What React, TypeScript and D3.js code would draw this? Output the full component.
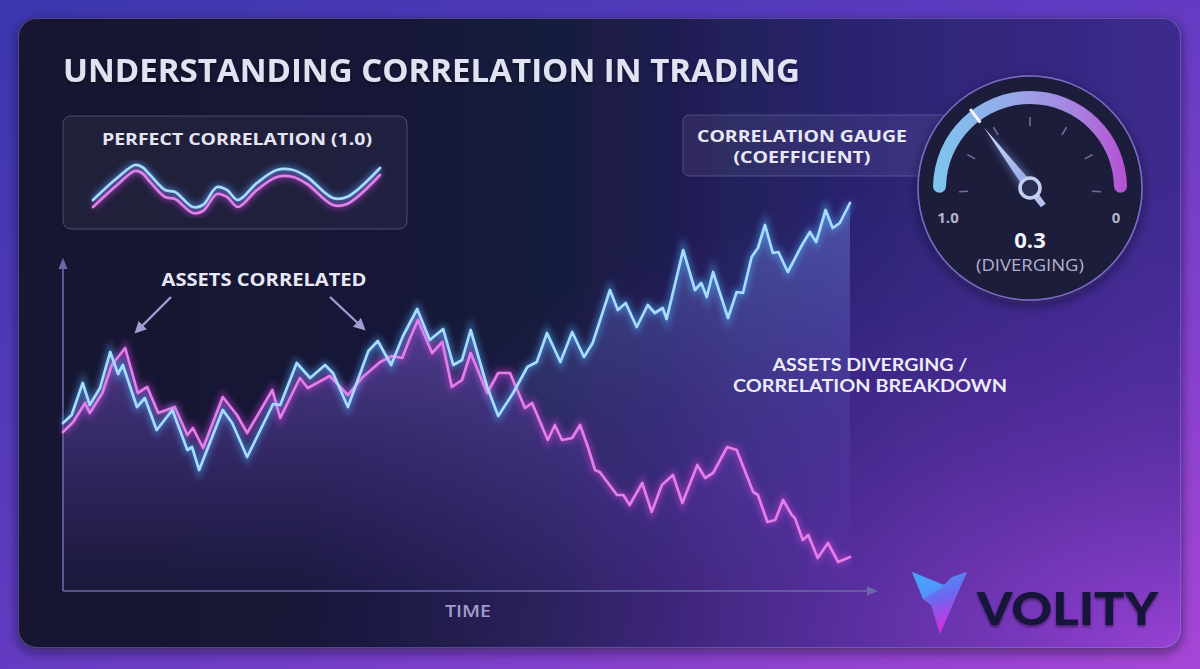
import React from "react";
import * as d3 from "d3";

const W = 1200;
const H = 669;

// ---------- text ----------
const TITLE = "UNDERSTANDING CORRELATION IN TRADING";
const PERFECT_LABEL = "PERFECT CORRELATION (1.0)";
const GAUGE_LABEL = ["CORRELATION GAUGE", "(COEFFICIENT)"];
const CORRELATED_LABEL = "ASSETS CORRELATED";
const DIVERGING_LABEL = ["ASSETS DIVERGING /", "CORRELATION BREAKDOWN"];
const X_AXIS_LABEL = "TIME";
const GAUGE_END_LABELS = ["1.0", "0"];
const GAUGE_VALUE_LABEL = "0.3";
const GAUGE_STATE_LABEL = "(DIVERGING)";
const BRAND = "VOLITY";

// ---------- main chart data: [time (0-100), price index (0-100)] ----------
const assetA: [number, number][] = [
  [0, 42], [1.1, 44], [2.5, 52], [3.4, 46.5], [4.7, 50.75], [6, 59.75], [7, 54.25], [7.6, 56.5],
  [9.4, 46], [10.4, 48.25], [11.9, 40.25], [13.9, 45.25], [15.8, 35.25], [16.4, 36], [17.3, 30.25],
  [20.3, 45.25], [21.5, 42], [23.4, 33.5], [26.7, 46.75], [27.6, 46.5], [29.7, 57], [31.4, 53.25],
  [33.3, 56.5], [34.3, 54.5], [36.2, 46], [38.8, 60], [40, 62.5], [41.7, 56.5], [43.2, 63.75],
  [45, 70.5], [46.6, 62.75], [48.3, 65.5], [49.6, 56.5], [50.7, 57.75], [51.8, 65.25], [53.9, 51],
  [55.3, 43.75], [57.2, 49.5], [59, 56], [60.2, 57.25], [61.5, 64.5], [63.2, 57.25], [64.7, 64.75],
  [66.2, 58.5], [67.3, 62], [69.5, 75.25], [70.5, 70.25], [71.5, 72], [72.9, 66], [74.3, 71.5],
  [75.2, 69.5], [76.2, 70.75], [76.7, 68], [78.8, 85.25], [80.3, 75.25], [81.1, 77], [81.8, 73.5],
  [82.6, 79.75], [84.5, 68.25], [85.6, 74.75], [86.4, 74.5], [87.5, 83.5], [88.3, 85.75], [89.2, 91.5],
  [90.2, 84.5], [90.9, 84.75], [92.1, 79.75], [93.9, 86.5], [94.9, 89.75], [95.7, 87.25], [96.9, 95.25],
  [97.8, 90.75], [98.7, 92], [100, 97],
];

const assetB: [number, number][] = [
  [0, 39.75], [1.3, 42.25], [2.8, 47], [3.4, 44.5], [5, 49.5], [6.2, 56.5], [7.9, 60.75], [9.5, 49.5],
  [10.7, 51], [12.1, 44.5], [14.2, 46], [15.8, 39], [16.5, 40.75], [17.8, 35.75], [20.3, 48.5],
  [22.1, 44], [23.4, 39.5], [26.6, 50.25], [27.6, 43.25], [30.1, 53.25], [31.1, 50.75], [33.9, 53.75],
  [36.2, 49], [38.1, 53.5], [40.3, 57.25], [41.8, 58.75], [43.1, 58.25], [44.1, 63.25], [45.1, 67.75],
  [46.9, 59.5], [48.2, 62.25], [49.4, 51], [50.7, 52.75], [51.8, 59.5], [53.9, 49.5], [55.3, 54.5],
  [56.8, 54.5], [58.7, 45.75], [59.6, 47], [61.6, 37.75], [62.5, 41.5], [63.4, 37.75], [64.7, 38.25],
  [65.7, 41.5], [66.7, 36], [67.6, 30.25], [68.2, 29.75], [70.4, 24], [71.2, 24], [72, 21.5],
  [73.6, 27], [74.8, 19.75], [76.1, 26.5], [77.5, 29], [78.7, 22], [80.6, 31.5], [81.6, 28.25],
  [82.6, 29.5], [84.4, 36], [85.6, 35.25], [87.7, 24.75], [88.3, 24], [89.5, 17.25], [90.5, 17.75],
  [91.5, 22.75], [92.6, 19], [93, 18.25], [94, 12.75], [94.7, 14], [95.9, 8.25], [97.2, 12],
  [98.5, 7.25], [100, 8.5],
];

// ---------- inset "perfect correlation" data ----------
const miniTime = [0, 8.4, 14.6, 17.1, 19.9, 25.1, 28.6, 34.8, 38.3, 43.2, 46.7, 50.5, 57.1, 64.1, 69.7, 74.6, 83.6, 88.5, 100];
const miniA = [15, 37, 50, 48, 40, 25, 23, 8, 10, 28, 25, 15, 32, 45, 45, 38, 17, 18, 47];
const miniB = [8, 30, 44, 42, 33, 18, 16, 2, 4, 21, 18, 8, 25, 38, 38, 31, 10, 11, 40];

// ---------- gauge ----------
const gaugeTicks = [0, 1 / 6, 2 / 6, 3 / 6, 4 / 6, 5 / 6, 1];
const gaugeNeedle = 0.3; // position along the dial, measured from the "1.0" end

const BLUE_CORE = "#a6dcff";
const BLUE_GLOW = "#4da6f2";
const PINK_CORE = "#e27fe8";
const PINK_GLOW = "#c23fd2";
const FONT = "'Open Sans', 'Noto Sans', sans-serif";
const FONT_TIGHT = "Lato, 'Open Sans', sans-serif";

export default function App() {
  // main chart scales
  const x = d3.scaleLinear().domain([0, 100]).range([63, 850]);
  const y = d3.scaleLinear().domain([0, 100]).range([591, 191]);
  const line = d3
    .line<[number, number]>()
    .x((d) => x(d[0]))
    .y((d) => y(d[1]))
    .curve(d3.curveLinear);
  const area = d3
    .area<[number, number]>()
    .x((d) => x(d[0]))
    .y0(y(0))
    .y1((d) => y(d[1]))
    .curve(d3.curveLinear);

  // inset scales
  const mx = d3.scaleLinear().domain([0, 100]).range([93, 380]);
  const my = d3.scaleLinear().domain([0, 50]).range([215, 165]);
  const miniLine = d3
    .line<number>()
    .x((_, i) => mx(miniTime[i]))
    .y((d) => my(d))
    .curve(d3.curveCatmullRom.alpha(0.5));

  // gauge
  const gcx = 1030;
  const gcy = 188;
  const toRad = Math.PI / 180;
  const gAngle = d3.scaleLinear().domain([0, 1]).range([-93, 93]); // degrees, clockwise from 12 o'clock
  const bandArc = d3
    .arc()
    .innerRadius(84)
    .outerRadius(97)
    .startAngle(gAngle(0) * toRad)
    .endAngle(gAngle(1) * toRad)
    .cornerRadius(6.5);
  const polar = (deg: number, r: number) => [Math.sin(deg * toRad) * r, -Math.cos(deg * toRad) * r];
  const needleDeg = gAngle(gaugeNeedle);
  const mk1 = polar(needleDeg, 82);
  const mk2 = polar(needleDeg, 99);

  return (
    <svg
      width={W}
      height={H}
      viewBox={`0 0 ${W} ${H}`}
      style={{ position: "absolute", left: 0, top: 0, display: "block" }}
    >
      <defs>
        <linearGradient id="bg" x1="0" y1="0" x2="1" y2="1">
          <stop offset="0" stopColor="#3a36ae" />
          <stop offset="0.5" stopColor="#633bc2" />
          <stop offset="1" stopColor="#a646d6" />
        </linearGradient>
        <linearGradient id="cardBase" x1="0" y1="0" x2="1" y2="0">
          <stop offset="0" stopColor="#131730" />
          <stop offset="0.45" stopColor="#171a3b" />
          <stop offset="0.72" stopColor="#2a2470" />
          <stop offset="1" stopColor="#3e2a8e" />
        </linearGradient>
        <radialGradient id="cardGlow" cx="1" cy="1" r="0.78">
          <stop offset="0" stopColor="#9c42d8" stopOpacity="0.95" />
          <stop offset="0.5" stopColor="#6a32b2" stopOpacity="0.5" />
          <stop offset="1" stopColor="#4a2aa0" stopOpacity="0" />
        </radialGradient>
        <linearGradient id="blueArea" gradientUnits="userSpaceOnUse" x1="0" y1="200" x2="0" y2="591">
          <stop offset="0" stopColor="#7a96f0" stopOpacity="0.42" />
          <stop offset="0.55" stopColor="#6a6ad8" stopOpacity="0.18" />
          <stop offset="1" stopColor="#5a4ac8" stopOpacity="0.02" />
        </linearGradient>
        <linearGradient id="pinkArea" gradientUnits="userSpaceOnUse" x1="0" y1="300" x2="0" y2="591">
          <stop offset="0" stopColor="#8a4ad0" stopOpacity="0.4" />
          <stop offset="1" stopColor="#5a3ab0" stopOpacity="0.04" />
        </linearGradient>
        <linearGradient id="gaugeBand" gradientUnits="userSpaceOnUse" x1="-97" y1="0" x2="97" y2="0">
          <stop offset="0" stopColor="#7cc6ee" />
          <stop offset="0.45" stopColor="#9aa4e6" />
          <stop offset="0.75" stopColor="#a880e0" />
          <stop offset="1" stopColor="#b650d2" />
        </linearGradient>
        <linearGradient id="needleFill" x1="0" y1="0" x2="0" y2="1">
          <stop offset="0" stopColor="#d4e0ff" />
          <stop offset="1" stopColor="#8ea4e4" />
        </linearGradient>
        <linearGradient id="logoFill" x1="0" y1="0" x2="0.3" y2="1">
          <stop offset="0" stopColor="#3fa6f4" />
          <stop offset="0.5" stopColor="#6a6af0" />
          <stop offset="1" stopColor="#d42ee0" />
        </linearGradient>
        <filter id="glow" x="-10%" y="-10%" width="120%" height="120%">
          <feGaussianBlur stdDeviation="3" />
        </filter>
        <filter id="softGlow" x="-50%" y="-50%" width="200%" height="200%">
          <feGaussianBlur stdDeviation="4" />
        </filter>
        <filter id="shadow" x="-20%" y="-20%" width="140%" height="140%">
          <feDropShadow dx="0" dy="4" stdDeviation="6" floodColor="#0a0820" floodOpacity="0.55" />
        </filter>
        <filter id="textShadow" x="-5%" y="-20%" width="110%" height="160%">
          <feDropShadow dx="0" dy="2" stdDeviation="1.5" floodColor="#000000" floodOpacity="0.45" />
        </filter>
        <marker id="axisArrow" viewBox="0 0 10 10" refX="8" refY="5" markerWidth="7" markerHeight="7" orient="auto">
          <path d="M0,1 L10,5 L0,9 Z" fill="#6c68a8" />
        </marker>
        <marker id="noteArrow" viewBox="0 0 10 10" refX="7" refY="5" markerWidth="5" markerHeight="5" orient="auto">
          <path d="M0,0 L10,5 L0,10 Z" fill="#a49ad2" />
        </marker>
        <clipPath id="cardClip">
          <rect x="18" y="18" width="1163" height="630" rx="18" />
        </clipPath>
      </defs>

      {/* page background */}
      <rect x="0" y="0" width={W} height={H} fill="url(#bg)" />

      {/* card */}
      <rect x="18" y="18" width="1163" height="630" rx="18" fill="url(#cardBase)" filter="url(#shadow)" />
      <rect x="18" y="18" width="1163" height="630" rx="18" fill="url(#cardGlow)" />
      <rect x="18.5" y="18.5" width="1162" height="629" rx="18" fill="none" stroke="#8f84e0" strokeOpacity="0.45" strokeWidth="1.2" />

      {/* title */}
      <text
        x="63"
        y="82"
        fontFamily={FONT}
        fontWeight="700"
        fontSize="33"
        fill="#e1e3f2"
        textLength="737"
        lengthAdjust="spacingAndGlyphs"
        filter="url(#textShadow)"
      >
        {TITLE}
      </text>

      {/* perfect correlation inset */}
      <rect x="63" y="116" width="344" height="113" rx="8" fill="#ffffff" fillOpacity="0.045" stroke="#a8a8e0" strokeOpacity="0.35" />
      <text x="237" y="145" textAnchor="middle" fontFamily={FONT} fontWeight="700" fontSize="16" fill="#e6e6f2" textLength="270" lengthAdjust="spacingAndGlyphs">
        {PERFECT_LABEL}
      </text>
      <g>
        <path d={miniLine(miniB) || ""} fill="none" stroke={PINK_GLOW} strokeWidth="6" opacity="0.55" filter="url(#glow)" />
        <path d={miniLine(miniA) || ""} fill="none" stroke={BLUE_GLOW} strokeWidth="6" opacity="0.55" filter="url(#glow)" />
        <path d={miniLine(miniB) || ""} fill="none" stroke={PINK_CORE} strokeWidth="2.7" strokeLinecap="round" />
        <path d={miniLine(miniA) || ""} fill="none" stroke={BLUE_CORE} strokeWidth="2.7" strokeLinecap="round" />
      </g>

      {/* main chart areas */}
      <g clipPath="url(#cardClip)">
        <path d={area(assetA) || ""} fill="url(#blueArea)" />
        <path d={area(assetB) || ""} fill="url(#pinkArea)" />
      </g>

      {/* axes */}
      <line x1={x(0)} y1={y(0)} x2={x(0)} y2={260} stroke="#6c68a8" strokeWidth="1.6" markerEnd="url(#axisArrow)" />
      <line x1={x(0)} y1={y(0)} x2={876} y2={y(0)} stroke="#6c68a8" strokeWidth="1.6" markerEnd="url(#axisArrow)" />
      <text x="468" y="617" textAnchor="middle" fontFamily={FONT} fontWeight="600" fontSize="16" fill="#a29ccc" textLength="46" lengthAdjust="spacingAndGlyphs">
        {X_AXIS_LABEL}
      </text>

      {/* main lines: glow then core */}
      <path d={line(assetB) || ""} fill="none" stroke={PINK_GLOW} strokeWidth="7" opacity="0.5" filter="url(#glow)" />
      <path d={line(assetA) || ""} fill="none" stroke={BLUE_GLOW} strokeWidth="7" opacity="0.5" filter="url(#glow)" />
      <path d={line(assetB) || ""} fill="none" stroke={PINK_CORE} strokeWidth="2.7" strokeLinejoin="round" strokeLinecap="round" />
      <path d={line(assetA) || ""} fill="none" stroke={BLUE_CORE} strokeWidth="2.7" strokeLinejoin="round" strokeLinecap="round" />

      {/* annotations */}
      <text x="264" y="286" textAnchor="middle" fontFamily={FONT} fontWeight="700" fontSize="17.5" fill="#e8e8f4" textLength="205" lengthAdjust="spacingAndGlyphs">
        {CORRELATED_LABEL}
      </text>
      <line x1="171" y1="297" x2="137" y2="331" stroke="#a49ad2" strokeWidth="2.4" markerEnd="url(#noteArrow)" />
      <line x1="330" y1="297" x2="363" y2="328" stroke="#a49ad2" strokeWidth="2.4" markerEnd="url(#noteArrow)" />

      <text x="870" y="371" textAnchor="middle" fontFamily={FONT_TIGHT} fontWeight="700" fontSize="16.5" fill="#ecebf6" textLength="195" lengthAdjust="spacingAndGlyphs">
        {DIVERGING_LABEL[0]}
      </text>
      <text x="870" y="392" textAnchor="middle" fontFamily={FONT_TIGHT} fontWeight="700" fontSize="16.5" fill="#ecebf6" textLength="274" lengthAdjust="spacingAndGlyphs">
        {DIVERGING_LABEL[1]}
      </text>

      {/* gauge label box */}
      <rect x="683" y="115" width="265" height="61" rx="6" fill="#ffffff" fillOpacity="0.06" stroke="#b6acff" strokeOpacity="0.3" />
      <text x="802" y="142" textAnchor="middle" fontFamily={FONT} fontWeight="700" fontSize="16.5" fill="#e8e8f4" textLength="210" lengthAdjust="spacingAndGlyphs">
        {GAUGE_LABEL[0]}
      </text>
      <text x="802" y="163" textAnchor="middle" fontFamily={FONT} fontWeight="700" fontSize="16.5" fill="#e8e8f4" textLength="137" lengthAdjust="spacingAndGlyphs">
        {GAUGE_LABEL[1]}
      </text>

      {/* gauge */}
      <g transform={`translate(${gcx},${gcy})`}>
        <circle r="112" fill="#1a1c3b" stroke="#8a78d8" strokeOpacity="0.6" strokeWidth="1.5" filter="url(#shadow)" />
        <circle r="112" fill="none" stroke="#8a78d8" strokeOpacity="0.55" strokeWidth="1.5" />
        <path d={bandArc({} as any) || ""} fill="url(#gaugeBand)" />
        {gaugeTicks.map((t, i) => {
          const a = polar(gAngle(t), 62);
          const b = polar(gAngle(t), 71);
          return <line key={i} x1={a[0]} y1={a[1]} x2={b[0]} y2={b[1]} stroke="#707099" strokeWidth="1.6" />;
        })}
        <line x1={mk1[0]} y1={mk1[1]} x2={mk2[0]} y2={mk2[1]} stroke="#f4f4ff" strokeWidth="3" />
        <g transform={`rotate(${needleDeg})`}>
          <path d="M -6 0 L 0 -76 L 6 0 Z" fill="#9ab4ff" opacity="0.55" filter="url(#softGlow)" />
          <path d="M -5 0 L 0 -76 L 5 0 Z" fill="url(#needleFill)" />
          <path d="M -3.6 0 L -3 22 L 3 22 L 3.6 0 Z" fill="#b4c2f0" />
        </g>
        <circle r="10" fill="#2a2e52" stroke="#c6d0f2" strokeWidth="3.5" />
        <text x="-82" y="35" textAnchor="middle" fontFamily={FONT} fontWeight="700" fontSize="15" fill="#b4b4cc">
          {GAUGE_END_LABELS[0]}
        </text>
        <text x="86" y="35" textAnchor="middle" fontFamily={FONT} fontWeight="700" fontSize="15" fill="#b4b4cc">
          {GAUGE_END_LABELS[1]}
        </text>
        <text x="0" y="60" textAnchor="middle" fontFamily={FONT} fontWeight="700" fontSize="22" fill="#f2f2fa">
          {GAUGE_VALUE_LABEL}
        </text>
        <text x="0" y="83" textAnchor="middle" fontFamily={FONT} fontWeight="400" fontSize="15.5" fill="#b4b2cc" textLength="108" lengthAdjust="spacingAndGlyphs">
          {GAUGE_STATE_LABEL}
        </text>
      </g>

      {/* brand */}
      <g transform="translate(912,572)">
        <path d="M0,0 L32,13 L40,5 L55,0 L28,62 L19,33 L11,27 Z" fill="url(#logoFill)" />
        <path d="M0,0 L32,13 L26,18 L11,27 Z" fill="#4aa8ff" opacity="0.6" />
      </g>
      <text
        x="977"
        y="625"
        fontFamily="Lato, 'Open Sans', sans-serif"
        fontWeight="900"
        fontSize="46"
        fill="#15133a"
        textLength="181"
        lengthAdjust="spacingAndGlyphs"
        filter="url(#textShadow)"
      >
        {BRAND}
      </text>
    </svg>
  );
}
